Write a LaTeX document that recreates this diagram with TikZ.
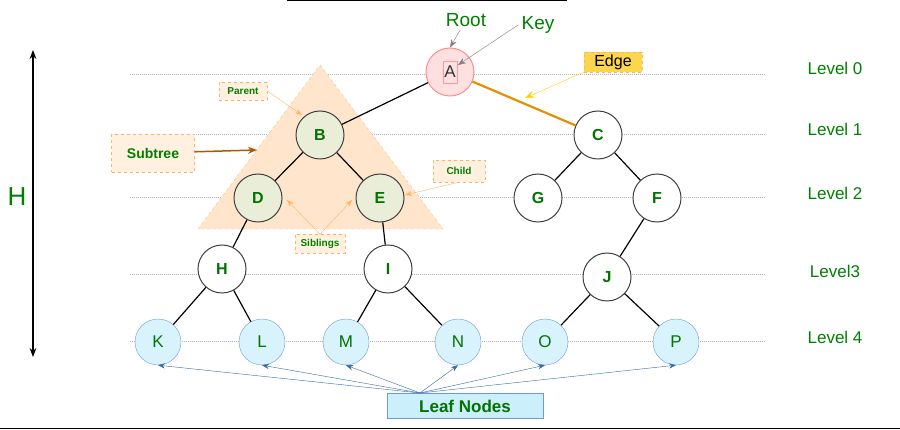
\documentclass[tikz,border=0pt]{standalone}
\usepackage{fontspec}
\setmainfont{Liberation Sans}
\usetikzlibrary{arrows.meta}
\begin{document}
\begin{tikzpicture}[x=1pt,y=-1pt,
 nd/.style={circle,draw=black!75,line width=1pt,minimum size=48pt,inner sep=0,font=\fontsize{16}{18}\selectfont\bfseries,text=green!45!black,fill=white},
 gn/.style={nd,fill=green!10!olive!15},
 lf/.style={circle,draw=cyan!50!blue!60,minimum size=46pt,inner sep=0,fill=cyan!15,font=\fontsize{17}{19}\selectfont,text=green!45!black},
 lvl/.style={font=\fontsize{17}{19}\selectfont,text=green!50!black},
 lab/.style={draw=orange!60,dashed,fill=orange!12,font=\bfseries\fontsize{10}{12}\selectfont,text=green!50!black,inner sep=3pt},
 la/.style={-{Stealth[length=7pt,width=5pt]},orange!60},
 ed/.style={line width=1.2pt}]
\useasboundingbox (0,0) rectangle (900,430);
\draw[line width=1pt] (287,1) -- (567,1);
\draw[line width=1pt] (0,428) -- (900,428);
\foreach \y in {75,135,198,275,342} \draw[gray!60,densely dotted,line width=1pt] (130,\y) -- (765,\y);
\node[lvl] (l0) at (835,68) {Level 0};
\node[lvl] (l1) at (835,129) {Level 1};
\node[lvl] (l2) at (835,193) {Level 2};
\node[lvl] (l3) at (835,271) {Level3};
\node[lvl] (l4) at (835,337) {Level 4};
\coordinate (ht) at (33,50); \coordinate (hb) at (33,357);
\draw[{Stealth[length=9pt]}-{Stealth[length=9pt]},line width=1.2pt] (ht) -- (hb);
\node[font=\fontsize{26}{28}\selectfont,text=green!50!black] (hl) at (17,197) {H};
\fill[orange!20,draw=orange!50,dashed] (320,65) -- (443,229) -- (198,229) -- cycle;
\node[nd,fill=red!12,draw=red!45,font=\fontsize{17}{19}\selectfont,text=black!80] (A) at (450,72) {A};
\draw[red!40] (443,61) rectangle (457,83);
\node[gn] (B) at (320,135) {B};
\node[gn] (D) at (258,198) {D};
\node[gn] (E) at (380,198) {E};
\node[nd] (C) at (598,135) {C};
\node[nd] (G) at (538,198) {G};
\node[nd] (F) at (657,198) {F};
\node[nd] (H) at (222,269) {H};
\node[nd] (I) at (388,269) {I};
\node[nd] (J) at (607,277) {J};
\node[lf] (K) at (158,342) {K};
\node[lf] (L) at (262,342) {L};
\node[lf] (M) at (346,342) {M};
\node[lf] (N) at (458,342) {N};
\node[lf] (O) at (545,342) {O};
\node[lf] (P) at (676,342) {P};
\draw[ed] (A)--(B) (B)--(D) (B)--(E) (D)--(H) (E)--(I) (C)--(G) (C)--(F) (F)--(J)
 (H)--(K) (H)--(L) (I)--(M) (I)--(N) (J)--(O) (J)--(P);
\draw[line width=2.2pt,orange!75!yellow!90!black] (A)--(C);
\node[lab,font=\bfseries\fontsize{14}{16}\selectfont,minimum width=83pt,minimum height=38pt] (st) at (153,153) {Subtree};
\coordinate (stt) at (257,150);
\draw[-{Stealth[length=9pt,width=7pt]},line width=1.5pt,orange!70!black] (st) -- (stt);
\node[lab,minimum width=48pt,minimum height=18pt] (pa) at (243,91) {Parent};
\coordinate (pt) at (302,115);
\draw[la] (pa.east) -- (pt);
\node[lab,minimum width=52pt,minimum height=22pt] (ch) at (459,171) {Child};
\coordinate (ct) at (405,195);
\draw[la] (ch.south) -- (ct);
\node[lab,minimum width=50pt,minimum height=19pt] (sb) at (320,244) {Siblings};
\coordinate (s1) at (287,200); \coordinate (s2) at (352,200);
\draw[la] (sb.north) -- (s1);
\draw[la] (sb.north) -- (s2);
\node[font=\fontsize{19}{21}\selectfont,text=green!50!black] (rt) at (466,20) {Root};
\draw[-{Stealth[length=8pt]},gray] (rt) -- (A.north);
\node[font=\fontsize{19}{21}\selectfont,text=green!50!black] (ky) at (538,25) {Key};
\coordinate (kt) at (458,65);
\draw[-{Stealth[length=8pt]},gray] (ky.west) -- (kt);
\node[draw=orange!60,dashed,fill=yellow!60!orange!70,font=\fontsize{16}{18}\selectfont,minimum width=58pt,minimum height=20pt,inner sep=2pt] (eg) at (613,62) {Edge};
\coordinate (et) at (525,98);
\draw[-{Stealth[length=9pt]},yellow!70!orange] (eg.south west) -- (et);
\node[draw=cyan!50!blue!60,fill=cyan!20,font=\bfseries\fontsize{17}{19}\selectfont,text=green!45!black,minimum width=156pt,minimum height=25pt] (ln) at (465,406) {Leaf Nodes};
\coordinate (ls) at (420,393);
\foreach \n in {K,L,M,N,O,P} \draw[-{Stealth[length=7pt]},cyan!50!blue!80!black] (ls) -- (\n.south);
\end{tikzpicture}
\end{document}
